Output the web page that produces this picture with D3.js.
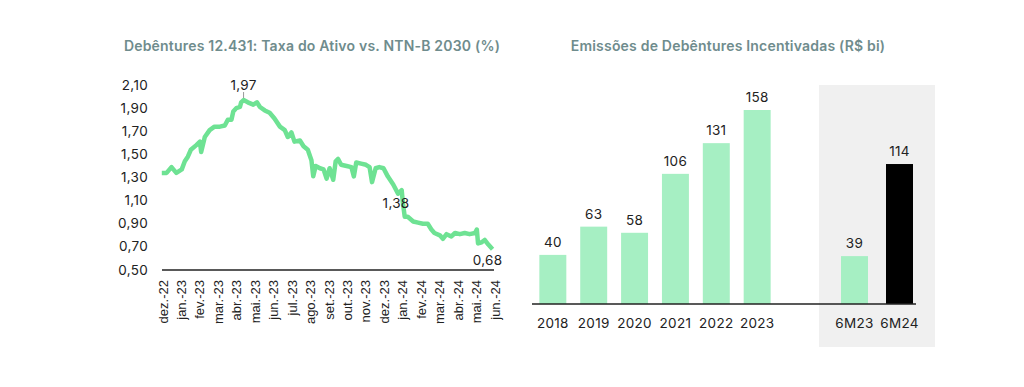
<!DOCTYPE html>
<html>
<head>
<meta charset="utf-8">
<script src="https://cdn.jsdelivr.net/npm/d3@7"></script>
<style>
  body { margin: 0; background: #fff; }
  svg { display: block; font-family: Inter, "Open Sans", sans-serif; }
  .title { font-size: 14px; font-weight: 600; fill: #6f8c8d; letter-spacing: 0.2px; }
  .tick-lbl { font-size: 13.5px; fill: #222; letter-spacing: 0.3px; }
  .month-lbl { font-family: "Liberation Sans", Arial, sans-serif; font-size: 13px; fill: #222; }
</style>
</head>
<body>
<svg id="chart" width="1024" height="387"></svg>
<script>
// Left chart: spread series (%)
const lineDates = [
  "2022-11-29","2022-12-07","2022-12-15","2022-12-23","2023-01-01","2023-01-06","2023-01-11","2023-01-16",
  "2023-01-25","2023-01-31","2023-02-02","2023-02-08","2023-02-16","2023-02-24","2023-03-05","2023-03-13",
  "2023-03-18","2023-03-24","2023-03-27","2023-04-01","2023-04-07","2023-04-09","2023-04-13","2023-04-20",
  "2023-04-29","2023-05-05","2023-05-10","2023-05-18","2023-05-26","2023-06-03","2023-06-12","2023-06-20",
  "2023-06-25","2023-07-01","2023-07-06","2023-07-15","2023-07-21","2023-07-28","2023-08-03","2023-08-06",
  "2023-08-10","2023-08-17","2023-08-23","2023-08-28","2023-09-02","2023-09-08","2023-09-12","2023-09-16",
  "2023-09-21","2023-09-30","2023-10-08","2023-10-12","2023-10-16","2023-10-24","2023-11-01","2023-11-07",
  "2023-11-11","2023-11-17","2023-11-23","2023-11-30","2023-12-07","2023-12-16","2023-12-24","2023-12-30",
  "2024-01-01","2024-01-04","2024-01-09","2024-01-18","2024-01-26","2024-02-03","2024-02-11","2024-02-17",
  "2024-02-22","2024-03-02","2024-03-07","2024-03-13","2024-03-21","2024-03-27","2024-04-04","2024-04-12",
  "2024-04-20","2024-04-29","2024-05-02","2024-05-04","2024-05-10","2024-05-15","2024-05-21","2024-05-28"
];
const lineValues = [
  1.34,1.34,1.39,1.34,1.37,1.44,1.48,1.54,
  1.58,1.61,1.52,1.65,1.71,1.74,1.74,1.75,
  1.80,1.80,1.87,1.90,1.91,1.95,1.97,1.95,
  1.93,1.95,1.91,1.88,1.86,1.81,1.74,1.71,
  1.65,1.69,1.61,1.62,1.57,1.54,1.45,1.31,
  1.40,1.38,1.37,1.29,1.38,1.28,1.44,1.46,
  1.41,1.40,1.39,1.31,1.43,1.42,1.41,1.39,
  1.26,1.38,1.39,1.38,1.31,1.24,1.16,1.19,
  1.08,0.96,0.96,0.92,0.91,0.90,0.90,0.85,
  0.82,0.80,0.77,0.81,0.79,0.82,0.81,0.82,
  0.81,0.82,0.85,0.73,0.74,0.76,0.72,0.68
];
const yTicks = [0.5, 0.7, 0.9, 1.1, 1.3, 1.5, 1.7, 1.9, 2.1];
const monthLabels = ["dez.-22","jan.-23","fev.-23","mar.-23","abr.-23","mai.-23","jun.-23","jul.-23",
  "ago.-23","set.-23","out.-23","nov.-23","dez.-23","jan.-24","fev.-24","mar.-24","abr.-24","mai.-24","jun.-24"];
const callouts = [
  { date: "2023-04-13", value: 1.97, text: "1,97" },
  { date: "2023-12-24", value: 1.38, text: "1,38" },
  { date: "2024-05-28", value: 0.68, text: "0,68" }
];

// Right chart: issuance (R$ bi)
const years = ["2018","2019","2020","2021","2022","2023"];
const yearValues = [40, 63, 58, 106, 131, 158];
const halves = ["6M23","6M24"];
const halfValues = [39, 114];

const GREEN_LINE = "#6ee293";
const GREEN_BAR = "#a6efc3";
const fmt = d => d3.format(".2f")(d).replace(".", ",");

const svg = d3.select("#chart");
const parse = d3.timeParse("%Y-%m-%d");

// ---------- left chart ----------
const x = d3.scaleTime()
  .domain([parse("2022-12-01"), parse("2024-06-01")])
  .range([163, 495]);
const y = d3.scaleLinear().domain([0.5, 2.1]).range([270, 85]);

svg.append("text").attr("class", "title")
  .attr("x", 312).attr("y", 51).attr("text-anchor", "middle")
  .text("Debêntures 12.431: Taxa do Ativo  vs. NTN-B 2030 (%)");

svg.append("g").selectAll("text")
  .data(yTicks)
  .join("text")
  .attr("class", "tick-lbl")
  .attr("x", 148)
  .attr("y", d => y(d) + 4.5)
  .attr("text-anchor", "end")
  .text(fmt);

svg.append("line")
  .attr("x1", 162).attr("x2", 494)
  .attr("y1", y(0.5)).attr("y2", y(0.5))
  .attr("stroke", "#222").attr("stroke-width", 1.5);

const monthScale = d3.scalePoint().domain(monthLabels).range([163, 495]);
svg.append("g").selectAll("text")
  .data(monthLabels)
  .join("text")
  .attr("class", "month-lbl")
  .attr("text-anchor", "end")
  .attr("transform", d => `translate(${monthScale(d) + 4.5},280) rotate(-90)`)
  .text(d => d);

const pts = lineDates.map((d, i) => ({ date: parse(d), value: lineValues[i] }));
const lineGenerator = d3.line()
  .x(d => x(d.date))
  .y(d => y(d.value));

svg.append("path")
  .datum(pts)
  .attr("d", lineGenerator)
  .attr("fill", "none")
  .attr("stroke", GREEN_LINE)
  .attr("stroke-width", 4.5)
  .attr("stroke-linejoin", "round");

// peak marker
svg.append("line")
  .attr("x1", x(parse(callouts[0].date))).attr("x2", x(parse(callouts[0].date)))
  .attr("y1", y(callouts[0].value) - 8).attr("y2", y(callouts[0].value) - 2)
  .attr("stroke", "#999").attr("stroke-width", 1);

svg.append("text").attr("class", "tick-lbl")
  .attr("x", x(parse(callouts[0].date))).attr("y", y(callouts[0].value) - 10)
  .attr("text-anchor", "middle").text(callouts[0].text);
svg.append("text").attr("class", "tick-lbl")
  .attr("x", x(parse(callouts[1].date)) - 2).attr("y", 208)
  .attr("text-anchor", "middle").text(callouts[1].text);
svg.append("text").attr("class", "tick-lbl")
  .attr("x", x(parse(callouts[2].date)) - 5).attr("y", 265)
  .attr("text-anchor", "middle").text(callouts[2].text);

// ---------- right chart ----------
svg.append("rect")
  .attr("x", 819).attr("y", 85).attr("width", 116).attr("height", 262)
  .attr("fill", "#f0f0f0");

svg.append("text").attr("class", "title")
  .attr("x", 728).attr("y", 51).attr("text-anchor", "middle")
  .text("Emissões de Debêntures Incentivadas (R$ bi)");

const yb = d3.scaleLinear().domain([0, 158]).range([304, 110]);
const xYears = d3.scaleBand().domain(years).range([532, 778]).paddingInner(0.34).paddingOuter(0.18);
const xHalves = d3.scaleBand().domain(halves).range([832, 922]).paddingInner(0.4).paddingOuter(0.2);

const barData = years.map((c, i) => ({ cat: c, value: yearValues[i], x: xYears, fill: GREEN_BAR }))
  .concat(halves.map((c, i) => ({ cat: c, value: halfValues[i], x: xHalves, fill: i === 1 ? "#000" : GREEN_BAR })));

const bars = svg.append("g");
bars.selectAll("rect")
  .data(barData)
  .join("rect")
  .attr("x", d => d.x(d.cat))
  .attr("width", d => d.x.bandwidth())
  .attr("y", d => yb(d.value))
  .attr("height", d => yb(0) - yb(d.value))
  .attr("fill", d => d.fill);

bars.selectAll(".val")
  .data(barData)
  .join("text")
  .attr("class", "tick-lbl val")
  .attr("x", d => d.x(d.cat) + d.x.bandwidth() / 2)
  .attr("y", d => yb(d.value) - 8)
  .attr("text-anchor", "middle")
  .text(d => d.value);

bars.selectAll(".cat")
  .data(barData)
  .join("text")
  .attr("class", "tick-lbl cat")
  .attr("x", d => d.x(d.cat) + d.x.bandwidth() / 2)
  .attr("y", 328)
  .attr("text-anchor", "middle")
  .text(d => d.cat);

svg.append("line")
  .attr("x1", 532).attr("x2", 916)
  .attr("y1", yb(0)).attr("y2", yb(0))
  .attr("stroke", "#222").attr("stroke-width", 1.5);
</script>
</body>
</html>
